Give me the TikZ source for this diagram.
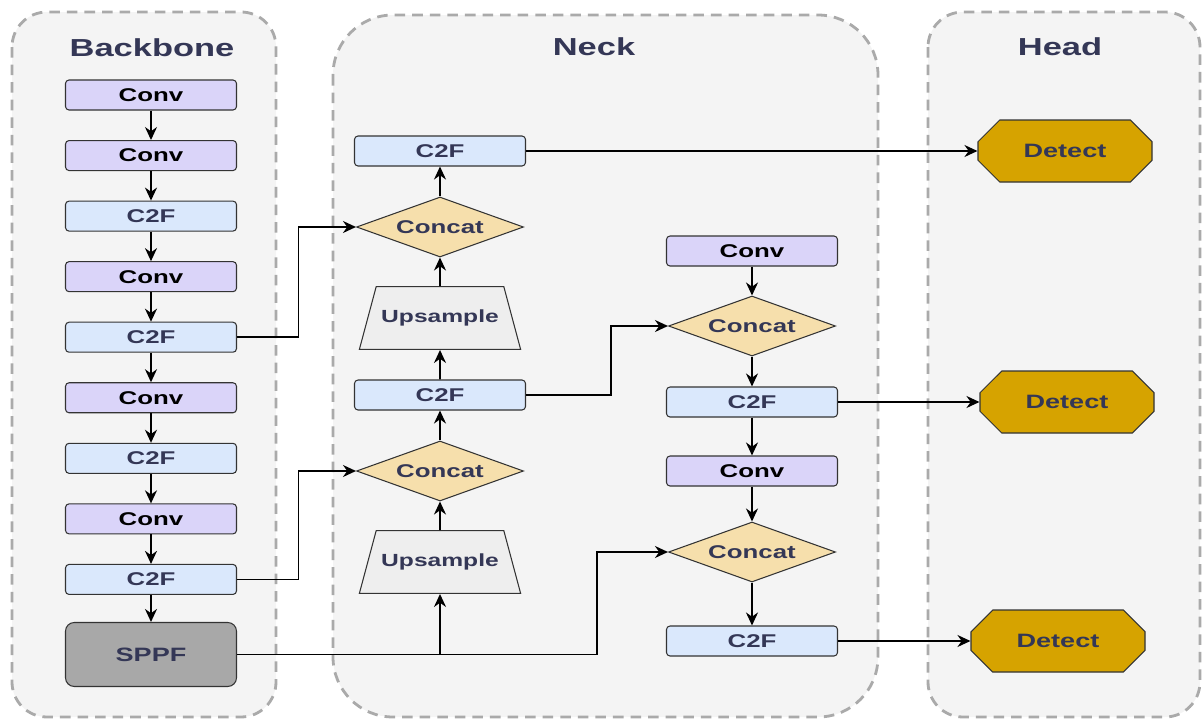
\documentclass[tikz,border=0pt]{standalone}
\usepackage{fontspec}
\setmainfont{Liberation Sans}[FakeStretch=1.4]
\usepackage{tikz}
\usetikzlibrary{calc,positioning,shapes.geometric,shapes.misc,arrows.meta}
\definecolor{panelgrey}{HTML}{F4F4F4}
\definecolor{dashgrey}{HTML}{AAAAAA}
\definecolor{navy}{HTML}{343756}
\definecolor{convcol}{HTML}{DAD4F9}
\definecolor{cfcol}{HTML}{DAE8FC}
\definecolor{catcol}{HTML}{F6DFAC}
\definecolor{upcol}{HTML}{EEEEEE}
\definecolor{sppfcol}{HTML}{A8A8A8}
\definecolor{detcol}{HTML}{D6A300}

\begin{document}
\begin{tikzpicture}[node distance=5.9mm and 6mm, >={Stealth[length=2.6mm,width=2.4mm]}]

\tikzset{panel/.style={fill=panelgrey,draw=dashgrey,line width=1.6pt,dash pattern=on 6pt off 4pt},
title/.style={font=\fontsize{14}{16}\selectfont\bfseries,text=navy},
box/.style={font=\fontsize{10.5}{12}\selectfont\bfseries,draw=black!80,line width=0.6pt,rounded corners=2pt,minimum width=3.42cm,minimum height=6mm,inner sep=0pt},
convnode/.style={box,fill=convcol,text=black},
cfnode/.style={box,fill=cfcol,text=navy},
catnode/.style={shape=diamond,aspect=2.8,font=\fontsize{10.5}{12}\selectfont\bfseries,fill=catcol,draw=black!80,line width=0.6pt,text=navy,minimum width=3.34cm,minimum height=1.2cm,inner sep=0pt},
upnode/.style={shape=trapezium,trapezium left angle=75,trapezium right angle=75,font=\fontsize{10}{12}\selectfont\bfseries,fill=upcol,draw=black!80,line width=0.6pt,text=navy,inner xsep=1mm,inner ysep=4.65mm},
detnode/.style={shape=chamfered rectangle,chamfered rectangle xsep=0.86cm,chamfered rectangle ysep=0.3cm,font=\fontsize{11}{13}\selectfont\bfseries,fill=detcol,draw=black!80,line width=0.6pt,text=navy,minimum width=3.48cm,minimum height=1.24cm,inner sep=0pt},
link/.style={->,line width=1pt}}

\useasboundingbox (0,0) rectangle (24.06,-14.4);

% Panels
\draw[panel,rounded corners=7mm] (0.24,-0.24) rectangle (5.52,-14.34);
\draw[panel,rounded corners=12mm] (6.66,-0.3) rectangle (17.56,-14.34);
\draw[panel,rounded corners=7mm] (18.56,-0.24) rectangle (24.0,-14.34);
\node[title] (tback) at (3.04,-0.96) {Backbone};
\node[title] (tneck) at (11.88,-0.94) {Neck};
\node[title] (thead) at (21.2,-0.94) {Head};

% Backbone
\node[convnode] (b1) at (3.02,-1.9) {Conv};
\node[convnode,below=of b1] (b2) {Conv};
\node[cfnode,below=of b2] (b3) {C2F};
\node[convnode,below=of b3] (b4) {Conv};
\node[cfnode,below=of b4] (b5) {C2F};
\node[convnode,below=of b5] (b6) {Conv};
\node[cfnode,below=of b6] (b7) {C2F};
\node[convnode,below=of b7] (b8) {Conv};
\node[cfnode,below=of b8] (b9) {C2F};
\node[box,fill=sppfcol,text=navy,font=\fontsize{11}{13}\selectfont\bfseries,rounded corners=5pt,minimum height=1.28cm,below=5.4mm of b9] (sppf) {SPPF};
\foreach \a/\b in {b1/b2,b2/b3,b3/b4,b4/b5,b5/b6,b6/b7,b7/b8,b8/b9,b9/sppf} \draw[link] (\a) -- (\b);

% Neck, upward column
\node[cfnode] (n1) at (8.8,-3.02) {C2F};
\node[catnode] (cat1) at (8.8,-4.54) {Concat};
\node[upnode] (up1) at (8.8,-6.36) {Upsample};
\node[cfnode] (n2) at (8.8,-7.9) {C2F};
\node[catnode] (cat2) at (8.8,-9.42) {Concat};
\node[upnode] (up2) at (8.8,-11.24) {Upsample};
\foreach \a/\b in {up2/cat2,cat2/n2,n2/up1,up1/cat1,cat1/n1} \draw[link] (\a) -- (\b);

% Neck, downward column
\node[convnode] (c1) at (15.04,-5.02) {Conv};
\node[catnode] (cat3) at (15.04,-6.52) {Concat};
\node[cfnode] (c2) at (15.04,-8.04) {C2F};
\node[convnode] (c3) at (15.04,-9.42) {Conv};
\node[catnode] (cat4) at (15.04,-11.04) {Concat};
\node[cfnode] (c4) at (15.04,-12.82) {C2F};
\foreach \a/\b in {c1/cat3,cat3/c2,c2/c3,c3/cat4,cat4/c4} \draw[link] (\a) -- (\b);

% Head
\node[detnode] (h1) at (21.3,-3.02) {Detect};
\node[detnode] (h2) at (21.34,-8.04) {Detect};
\node[detnode] (h3) at (21.16,-12.82) {Detect};

% Cross links
\draw[link] (b5.east) -- ++(1.23,0) |- (cat1.west);
\draw[link] (b9.east) -- ++(1.23,0) |- (cat2.west);
\draw[link] (sppf.east) -| ([xshift=-1.42cm]cat4.west) -- (cat4.west);
\draw[link] (up2.south |- sppf.east) -- (up2.south);
\draw[link] (n2.east) -| ([xshift=-1.14cm]cat3.west) -- (cat3.west);
\draw[link] (n1) -- (h1);
\draw[link] (c2) -- (h2);
\draw[link] (c4) -- (h3);

\end{tikzpicture}
\end{document}
